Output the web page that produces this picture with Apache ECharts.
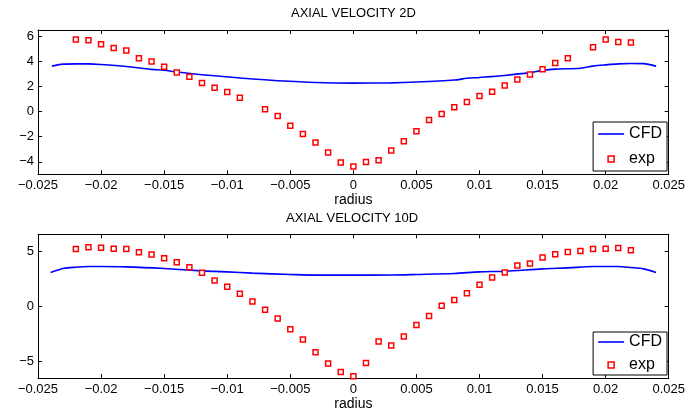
<!DOCTYPE html>
<html>
<head>
<meta charset="utf-8">
<script src="https://cdn.jsdelivr.net/npm/echarts@6/dist/echarts.min.js"></script>
<style>
html,body{margin:0;padding:0;background:#fff;}
#chart{width:688px;height:412px;}
</style>
</head>
<body>
<div id="chart"></div>
<script>
// ---- data ----
const titles = ['AXIAL VELOCITY 2D', 'AXIAL VELOCITY 10D'];
const xTickLabels = [-0.025, -0.02, -0.015, -0.01, -0.005, 0, 0.005, 0.01, 0.015, 0.02, 0.025];
const yTicks2D = [-4, -2, 0, 2, 4, 6];
const yTicks10D = [-5, 0, 5];

const expRadius2D = [-0.022,-0.021,-0.020,-0.019,-0.018,-0.017,-0.016,-0.015,-0.014,-0.013,-0.012,-0.011,-0.010,-0.009,-0.007,-0.006,-0.005,-0.004,-0.003,-0.002,-0.001,0,0.001,0.002,0.003,0.004,0.005,0.006,0.007,0.008,0.009,0.010,0.011,0.012,0.013,0.014,0.015,0.016,0.017,0.019,0.020,0.021,0.022];
const exp2D = [5.74,5.68,5.37,5.07,4.86,4.25,3.99,3.57,3.12,2.77,2.27,1.90,1.56,1.10,0.18,-0.35,-1.14,-1.78,-2.47,-3.26,-4.05,-4.37,-4.02,-3.89,-3.10,-2.36,-1.57,-0.67,-0.19,0.34,0.76,1.24,1.58,2.08,2.56,2.96,3.38,3.88,4.25,5.13,5.74,5.55,5.50];

const cfdRadius2D = [-0.0239,-0.023,-0.022,-0.021,-0.020,-0.018,-0.016,-0.015,-0.014,-0.012,-0.010,-0.008,-0.006,-0.003,0,0.003,0.005,0.008,0.009,0.010,0.012,0.014,0.015,0.016,0.018,0.019,0.020,0.021,0.022,0.023,0.024];
const cfd2D = [3.62,3.78,3.80,3.80,3.75,3.59,3.36,3.29,3.15,2.93,2.77,2.59,2.46,2.32,2.27,2.29,2.35,2.51,2.65,2.72,2.88,3.10,3.28,3.38,3.45,3.62,3.72,3.80,3.83,3.82,3.62];

const expRadius10D = [-0.022,-0.021,-0.020,-0.019,-0.018,-0.017,-0.016,-0.015,-0.014,-0.013,-0.012,-0.011,-0.010,-0.009,-0.008,-0.007,-0.006,-0.005,-0.004,-0.003,-0.002,-0.001,0,0.001,0.002,0.003,0.004,0.005,0.006,0.007,0.008,0.009,0.010,0.011,0.012,0.013,0.014,0.015,0.016,0.017,0.018,0.019,0.020,0.021,0.022];
const exp10D = [5.21,5.36,5.33,5.24,5.21,4.91,4.70,4.37,4.00,3.55,3.04,2.35,1.78,1.14,0.42,-0.33,-1.11,-2.11,-3.04,-4.19,-5.21,-5.99,-6.38,-5.18,-3.22,-3.58,-2.77,-1.72,-0.90,0.03,0.57,1.17,1.96,2.62,3.07,3.70,3.88,4.43,4.73,4.94,5.03,5.21,5.24,5.30,5.09];

const cfdRadius10D = [-0.024,-0.023,-0.022,-0.021,-0.020,-0.018,-0.015,-0.012,-0.010,-0.008,-0.005,-0.003,0,0.003,0.005,0.008,0.010,0.012,0.015,0.017,0.019,0.020,0.021,0.022,0.023,0.024];
const cfd10D = [3.07,3.43,3.55,3.61,3.61,3.58,3.43,3.22,3.13,3.01,2.89,2.83,2.83,2.84,2.89,2.98,3.13,3.19,3.40,3.49,3.61,3.61,3.61,3.52,3.40,3.07];

const pairs = (xs, ys) => xs.map((x, i) => [x, ys[i]]);

// ---- chart ----
const FONT = '"Liberation Sans", Arial, Helvetica, sans-serif';
const chart = echarts.init(document.getElementById('chart'), null, {renderer: 'canvas'});

const fmtX = v => {
  const r = Math.round(v * 1000) / 1000;
  const s = String(Math.abs(r));
  return r < 0 ? '\u2212' + s : s;
};
const fmtY = v => {
  const r = Math.round(v);
  return r < 0 ? '\u2212' + Math.abs(r) : String(r);
};

const grids = [
  {left: 38, right: 17, top: 30, height: 144.3},
  {left: 38, right: 17, top: 234.3, height: 145}
];

const axisLine = {show: true, onZero: false, lineStyle: {color: '#000', width: 1}};
const tickIn = {inside: true, length: 4, lineStyle: {color: '#000', width: 1}};

function xAxes(gi) {
  return [
    {
      type: 'value', gridIndex: gi, position: 'bottom', min: -0.025, max: 0.025, interval: 0.005,
      axisLine, axisTick: tickIn, splitLine: {show: false},
      axisLabel: {formatter: fmtX, color: '#000', fontSize: 13, fontFamily: FONT, margin: 5, showMinLabel: true, showMaxLabel: true},
      name: 'radius', nameLocation: 'middle', nameGap: 18,
      nameTextStyle: {color: '#000', fontSize: 14, fontFamily: FONT, verticalAlign: 'top'}
    },
    {
      type: 'value', gridIndex: gi, position: 'top', min: -0.025, max: 0.025, interval: 0.005,
      axisLine, axisTick: tickIn, axisLabel: {show: false}, splitLine: {show: false}
    }
  ];
}
function yAxes(gi, min, max, ticks) {
  return [
    {
      type: 'value', gridIndex: gi, position: 'left', min, max,
      axisLine, splitLine: {show: false},
      axisTick: Object.assign({customValues: ticks}, tickIn),
      axisLabel: {customValues: ticks, formatter: fmtY, color: '#000', fontSize: 13, fontFamily: FONT, margin: 4}
    },
    {
      type: 'value', gridIndex: gi, position: 'right', min, max,
      axisLine, splitLine: {show: false},
      axisTick: Object.assign({customValues: ticks}, tickIn),
      axisLabel: {show: false}
    }
  ];
}

const lineSeries = (name, data, xi, yi) => ({
  name, type: 'line', data, xAxisIndex: xi, yAxisIndex: yi,
  symbol: 'none', showSymbol: false, smooth: 0.3,
  lineStyle: {color: '#0000ff', width: 1.6}, itemStyle: {color: '#0000ff'},
  z: 2, animation: false
});
const expSeries = (name, data, xi, yi) => ({
  name, type: 'scatter', data, xAxisIndex: xi, yAxisIndex: yi,
  symbol: 'rect', symbolSize: 5,
  itemStyle: {color: '#fff', borderColor: '#ff0000', borderWidth: 1.5, opacity: 1},
  z: 3, animation: false
});

function legend(top, right, padding, gap) {
  return {
    orient: 'vertical', right, top, padding, itemGap: gap,
    itemWidth: 26, itemHeight: 6, itemTextGap: 5,
    symbolKeepAspect: true,
    backgroundColor: '#fff', borderColor: '#000', borderWidth: 1, borderRadius: 0,
    textStyle: {color: '#000', fontSize: 16, fontFamily: FONT},
    selectedMode: false,
    data: [
      {name: 'CFD', icon: 'path://M0,0L26,0L26,1.6L0,1.6Z',
       itemStyle: {color: '#0000ff', borderWidth: 0}, lineStyle: {width: 0}},
      {name: 'exp', icon: 'path://M0,0L10,0L10,10L0,10Z',
       itemStyle: {color: '#fff', borderColor: '#ff0000', borderWidth: 1.5}}
    ]
  };
}

chart.setOption({
  animation: false,
  backgroundColor: '#fff',
  title: [
    {text: titles[0], left: 291, top: 7, padding: 0, textStyle: {color: '#000', fontSize: 13, fontWeight: 'normal', fontFamily: FONT}},
    {text: titles[1], left: 286, top: 212, padding: 0, textStyle: {color: '#000', fontSize: 13, fontWeight: 'normal', fontFamily: FONT}}
  ],
  grid: grids,
  xAxis: [...xAxes(0), ...xAxes(1)],
  yAxis: [...yAxes(0, -5, 6.5, yTicks2D), ...yAxes(1, -6.55, 6.55, yTicks10D)],
  legend: [legend(122, 21, [4, 5, 4, 5], 9), legend(332, 21, [2, 5, 2, 5], 7)],
  series: [
    lineSeries('CFD', pairs(cfdRadius2D, cfd2D), 0, 0),
    expSeries('exp', pairs(expRadius2D, exp2D), 0, 0),
    lineSeries('CFD', pairs(cfdRadius10D, cfd10D), 2, 2),
    expSeries('exp', pairs(expRadius10D, exp10D), 2, 2)
  ]
});
</script>
</body>
</html>
